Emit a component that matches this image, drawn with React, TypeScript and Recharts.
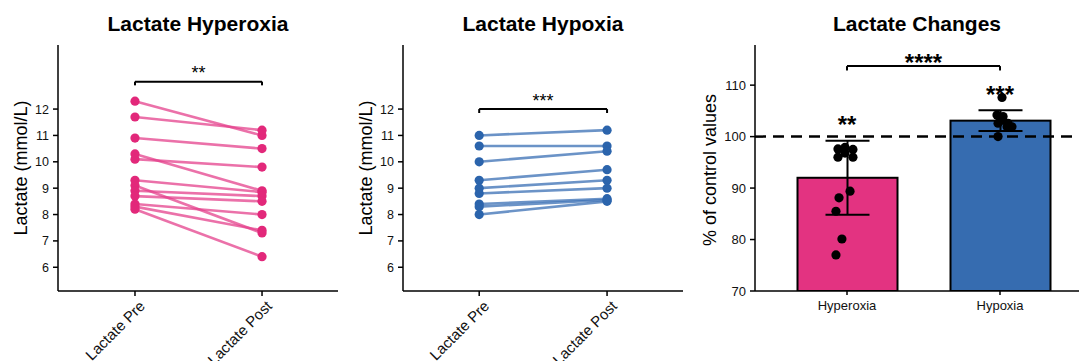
import React from 'react';
import {
  ComposedChart,
  Line,
  XAxis,
  YAxis,
  Bar,
  ErrorBar,
  Scatter,
  ReferenceLine,
} from 'recharts';

const FONT = '"Liberation Sans", Arial, Helvetica, sans-serif';

// ---------- data ----------
const timepoints = ['Lactate Pre', 'Lactate Post'];
const lactateTicks = [6, 7, 8, 9, 10, 11, 12];
const hyperoxiaPre = [12.3, 11.7, 10.9, 10.3, 10.1, 9.3, 9.1, 8.9, 8.7, 8.4, 8.3, 8.2];
const hyperoxiaPost = [11.0, 11.2, 10.5, 8.9, 9.8, 8.85, 7.3, 8.7, 8.5, 8.0, 7.4, 6.4];
const hypoxiaPre = [11.0, 10.6, 10.0, 9.3, 9.0, 8.8, 8.4, 8.3, 8.0];
const hypoxiaPost = [11.2, 10.6, 10.4, 9.7, 9.3, 9.0, 8.6, 8.55, 8.5];

const conditions = ['Hyperoxia', 'Hypoxia'];
const changeMeans = [92.0, 103.1];
const changeSDs = [7.2, 2.0];
const changeTicks = [70, 80, 90, 100, 110];
const hyperoxiaPct = [97.6, 97.9, 97.5, 96.0, 96.0, 96.8, 89.4, 88.1, 85.5, 80.1, 77.0];
const hyperoxiaJitter = [-0.059, -0.013, 0.039, -0.059, 0.039, -0.013, 0.02, -0.052, -0.072, -0.033, -0.072];
const hypoxiaPct = [107.6, 104.2, 103.9, 103.2, 102.6, 102.6, 101.9, 101.9, 100.0];
const hypoxiaJitter = [0.013, -0.02, 0.02, 0.013, -0.013, 0.052, 0.078, 0.046, -0.013];

const hyperoxiaStars = '**';
const hypoxiaStars = '***';
const changeStars = '****';

// ---------- styling ----------
const PINK = '#E2287A';
const BLUE = '#2B64AC';
const AXIS = { stroke: '#000', strokeWidth: 1.5 };

const W = 1079;
const H = 361;

const RotTick = (props: any) => {
  const { x, y, payload } = props;
  const label = timepoints[payload.value - 1] ?? '';
  const ex = x + 11;
  const ey = y + 9;
  return (
    <text
      x={ex}
      y={ey}
      transform={`rotate(-45 ${ex} ${ey})`}
      textAnchor="end"
      fontFamily={FONT}
      fontSize={15}
      fill="#111"
    >
      {label}
    </text>
  );
};

const starShape = (fs: number, weight: string) => (p: any) => {
  const { cx, cy, payload } = p;
  return (
    <text
      x={cx}
      y={cy + fs * 0.58}
      textAnchor="middle"
      fontFamily={FONT}
      fontSize={fs}
      fontWeight={weight}
      fill="#000"
    >
      {payload.t}
    </text>
  );
};

type PairedProps = {
  pre: number[];
  post: number[];
  color: string;
  lineColor: string;
  plotLeft: number;
  plotRight: number;
  xDomain: [number, number];
  bracketY: number;
  bracketDrop: number;
  starsY: number;
  stars: string;
};

const PairedPanel = (p: PairedProps) => {
  const dots = p.pre
    .map((v) => ({ x: 1, y: v }))
    .concat(p.post.map((v) => ({ x: 2, y: v })));
  return (
    <div style={{ position: 'absolute', left: 0, top: 0 }}>
      <ComposedChart
        width={W}
        height={H}
        margin={{ top: 45, bottom: 40, left: p.plotLeft - 50, right: W - p.plotRight }}
      >
        <XAxis
          type="number"
          dataKey="x"
          domain={p.xDomain}
          ticks={[1, 2]}
          allowDataOverflow
          height={30}
          axisLine={AXIS}
          tickLine={AXIS}
          tickSize={5}
          tick={<RotTick />}
        />
        <YAxis
          type="number"
          domain={[5.1, 14.43]}
          ticks={lactateTicks}
          allowDataOverflow
          width={50}
          axisLine={AXIS}
          tickLine={AXIS}
          tickSize={5}
          tickMargin={4}
          tick={{ fontFamily: FONT, fontSize: 12.5, fill: '#111' }}
        />
        {p.pre.map((v, i) => (
          <Line
            key={i}
            data={[
              { x: 1, y: v },
              { x: 2, y: p.post[i] },
            ]}
            dataKey="y"
            stroke={p.lineColor}
            strokeOpacity={0.75}
            strokeWidth={2.6}
            dot={false}
            isAnimationActive={false}
          />
        ))}
        <Scatter
          data={dots}
          dataKey="y"
          fill={p.color}
          shape={(s: any) => <circle cx={s.cx} cy={s.cy} r={4.6} fill={p.color} />}
          isAnimationActive={false}
        />
        <ReferenceLine
          segment={[
            { x: 1, y: p.bracketY },
            { x: 2, y: p.bracketY },
          ]}
          stroke="#000"
          strokeWidth={2}
        />
        <ReferenceLine
          segment={[
            { x: 1, y: p.bracketY },
            { x: 1, y: p.bracketY - p.bracketDrop },
          ]}
          stroke="#000"
          strokeWidth={2}
        />
        <ReferenceLine
          segment={[
            { x: 2, y: p.bracketY },
            { x: 2, y: p.bracketY - p.bracketDrop },
          ]}
          stroke="#000"
          strokeWidth={2}
        />
        <Scatter
          data={[{ x: 1.5, y: p.starsY, t: p.stars }]}
          dataKey="y"
          shape={starShape(18, 'normal')}
          isAnimationActive={false}
        />
      </ComposedChart>
    </div>
  );
};

const ChangePanel = () => {
  const bars = conditions.map((c, i) => ({ name: c, mean: changeMeans[i], sd: changeSDs[i] }));
  const pts = hyperoxiaPct
    .map((v, i) => ({ x: 1 + hyperoxiaJitter[i], y: v }))
    .concat(hypoxiaPct.map((v, i) => ({ x: 2 + hypoxiaJitter[i], y: v })));
  const plotLeft = 755;
  const plotRight = 1079;
  return (
    <div style={{ position: 'absolute', left: 0, top: 0 }}>
      <ComposedChart
        width={W}
        height={H}
        data={bars}
        margin={{ top: 45, bottom: 40, left: plotLeft - 50, right: W - plotRight }}
      >
        <XAxis
          xAxisId="cat"
          dataKey="name"
          type="category"
          padding={{ left: 15.5, right: 2.5 }}
          height={30}
          axisLine={AXIS}
          tickLine={AXIS}
          tickSize={4}
          tickMargin={6}
          tick={{ fontFamily: FONT, fontSize: 13, fill: '#111' }}
        />
        <XAxis
          xAxisId="num"
          type="number"
          dataKey="x"
          domain={[0.399, 2.516]}
          allowDataOverflow
          hide
        />
        <YAxis
          type="number"
          domain={[70, 117.8]}
          ticks={changeTicks}
          allowDataOverflow
          width={50}
          axisLine={AXIS}
          tickLine={AXIS}
          tickSize={5}
          tickMargin={4}
          tick={{ fontFamily: FONT, fontSize: 13, fill: '#111' }}
        />
        <ReferenceLine
          xAxisId="cat"
          y={100}
          stroke="#000"
          strokeWidth={2.5}
          strokeDasharray="11 7"
        />
        <Bar
          xAxisId="cat"
          dataKey="mean"
          barSize={100}
          stroke="#000"
          strokeWidth={2}
          isAnimationActive={false}
          shape={(s: any) => (
            <rect
              x={s.x}
              y={s.y}
              width={s.width}
              height={s.height}
              fill={s.payload.name === 'Hyperoxia' ? PINK : BLUE}
              fillOpacity={0.95}
              stroke="#000"
              strokeWidth={2}
            />
          )}
        >
          <ErrorBar dataKey="sd" width={22} stroke="#000" strokeWidth={2} direction="y" />
        </Bar>
        <Scatter
          xAxisId="num"
          data={pts}
          dataKey="y"
          shape={(s: any) => <circle cx={s.cx} cy={s.cy} r={4.6} fill="#000" />}
          isAnimationActive={false}
        />
        <ReferenceLine
          xAxisId="num"
          segment={[
            { x: 1, y: 113.7 },
            { x: 2, y: 113.7 },
          ]}
          stroke="#000"
          strokeWidth={2}
        />
        <ReferenceLine
          xAxisId="num"
          segment={[
            { x: 1, y: 113.7 },
            { x: 1, y: 112.85 },
          ]}
          stroke="#000"
          strokeWidth={2}
        />
        <ReferenceLine
          xAxisId="num"
          segment={[
            { x: 2, y: 113.7 },
            { x: 2, y: 112.85 },
          ]}
          stroke="#000"
          strokeWidth={2}
        />
        <Scatter
          xAxisId="num"
          data={[
            { x: 1.5, y: 115.4, t: changeStars },
            { x: 1, y: 103.4, t: hyperoxiaStars },
            { x: 2, y: 109.2, t: hypoxiaStars },
          ]}
          dataKey="y"
          shape={starShape(24, 'bold')}
          isAnimationActive={false}
        />
      </ComposedChart>
    </div>
  );
};

const Title = ({ cx, text }: { cx: number; text: string }) => (
  <div
    style={{
      position: 'absolute',
      left: cx,
      top: 23,
      transform: 'translate(-50%, -50%)',
      fontFamily: FONT,
      fontWeight: 'bold',
      fontSize: 21,
      whiteSpace: 'nowrap',
      color: '#000',
      lineHeight: 1,
    }}
  >
    {text}
  </div>
);

const YLabel = ({ cx, cy, text }: { cx: number; cy: number; text: string }) => (
  <div
    style={{
      position: 'absolute',
      left: cx,
      top: cy,
      transform: 'translate(-50%, -50%) rotate(-90deg)',
      fontFamily: FONT,
      fontSize: 18,
      whiteSpace: 'nowrap',
      color: '#000',
      lineHeight: 1,
    }}
  >
    {text}
  </div>
);

export default function App() {
  return (
    <div style={{ position: 'absolute', left: 0, top: 0, width: W, height: H, background: '#fff', overflow: 'hidden' }}>
      <PairedPanel
        pre={hyperoxiaPre}
        post={hyperoxiaPost}
        color={PINK}
        lineColor="#E4418C"
        plotLeft={58}
        plotRight={338}
        xDomain={[0.394, 2.598]}
        bracketY={13.04}
        bracketDrop={0.14}
        starsY={13.55}
        stars={hyperoxiaStars}
      />
      <PairedPanel
        pre={hypoxiaPre}
        post={hypoxiaPost}
        color={BLUE}
        lineColor="#3A6FB4"
        plotLeft={403}
        plotRight={683}
        xDomain={[0.404, 2.594]}
        bracketY={12.0}
        bracketDrop={0.15}
        starsY={12.47}
        stars={hypoxiaStars}
      />
      <ChangePanel />
      <Title cx={198} text="Lactate Hyperoxia" />
      <Title cx={543} text="Lactate Hypoxia" />
      <Title cx={917} text="Lactate Changes" />
      <YLabel cx={21} cy={168} text="Lactate (mmol/L)" />
      <YLabel cx={366} cy={168} text="Lactate (mmol/L)" />
      <YLabel cx={710} cy={170} text="% of control values" />
    </div>
  );
}
